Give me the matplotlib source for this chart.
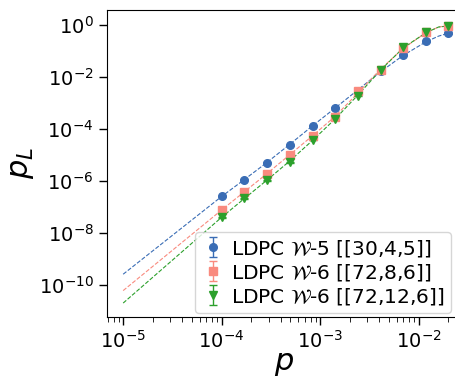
import matplotlib.pyplot as plt
import numpy as np

p = [1.0e-4, 1.7e-4, 2.89e-4, 4.9e-4, 8.4e-4, 1.42e-3, 2.42e-3, 4.12e-3, 7.0e-3, 1.19e-2, 2.0e-2]

# log10 of logical error rates
logpl_w5_30 = [-6.60, -5.96, -5.30, -4.63, -3.88, -3.19, -2.55, -1.77, -1.15, -0.63, -0.32]
logpl_w6_72_8 = [-7.12, -6.42, -5.73, -5.01, -4.27, -3.53, -2.53, -1.73, -0.87, -0.28, -0.03]
logpl_w6_72_12 = [-7.40, -6.67, -5.97, -5.28, -4.42, -3.60, -2.72, -1.74, -0.86, -0.29, -0.04]

# dashed fit curves (log10 values)
pfit = [1e-5, 1e-4, 1.7e-4, 2.89e-4, 4.9e-4, 8.4e-4, 1.42e-3, 2.42e-3, 4.12e-3, 7.0e-3, 1.19e-2, 1.6e-2, 2.0e-2]
fit_w5_30 = [-9.59, -6.60, -5.95, -5.29, -4.60, -3.88, -3.20, -2.50, -1.80, -1.17, -0.65, -0.43, -0.32]
fit_w6_72_8 = [-10.22, -7.12, -6.42, -5.72, -5.00, -4.26, -3.52, -2.62, -1.70, -0.90, -0.30, -0.08, -0.03]
fit_w6_72_12 = [-10.70, -7.40, -6.68, -5.97, -5.24, -4.44, -3.62, -2.70, -1.74, -0.88, -0.30, -0.08, -0.04]

labels = [r"LDPC $\mathcal{W}$-5 [[30,4,5]]",
          r"LDPC $\mathcal{W}$-6 [[72,8,6]]",
          r"LDPC $\mathcal{W}$-6 [[72,12,6]]"]
colors = ["#3a6db5", "#f98a7e", "#2ca02c"]
markers = ["o", "s", "v"]

fig = plt.figure(figsize=(4.55, 3.79), dpi=100)
ax = fig.add_axes([0.235, 0.164, 0.78, 0.81])

data = [logpl_w5_30, logpl_w6_72_8, logpl_w6_72_12]
fits = [fit_w5_30, fit_w6_72_8, fit_w6_72_12]
for d, f, lab, c, m in zip(data, fits, labels, colors, markers):
    y = 10 ** np.array(d)
    ax.plot(pfit, 10 ** np.array(f), "--", color=c, lw=0.8)
    ax.errorbar(p, y, yerr=0.05 * y, fmt=m, color=c, ms=5.5, capsize=3, elinewidth=1, label=lab)

ax.set_xscale("log")
ax.set_yscale("log")
ax.set_xlim(10 ** -5.165, 10 ** -1.56)
ax.set_ylim(10 ** -11.23, 10 ** 0.58)
ax.set_xticks([1e-5, 1e-4, 1e-3, 1e-2])
ax.set_yticks([1e-10, 1e-8, 1e-6, 1e-4, 1e-2, 1e0])
ax.yaxis.set_minor_locator(plt.NullLocator())
ax.tick_params(labelsize=14, length=6, width=1)
ax.tick_params(which="minor", length=3.5)
ax.set_xlabel("$p$", fontsize=22, labelpad=-2)
ax.set_ylabel("$p_L$", fontsize=22, labelpad=2)
ax.legend(loc="lower right", fontsize=14.5, handletextpad=0.3, borderpad=0.3,
          labelspacing=0.15, borderaxespad=0, handlelength=1.2,
          bbox_to_anchor=(451 / 455, 66 / 379), bbox_transform=fig.transFigure)

fig.savefig("out.png", dpi=100)
